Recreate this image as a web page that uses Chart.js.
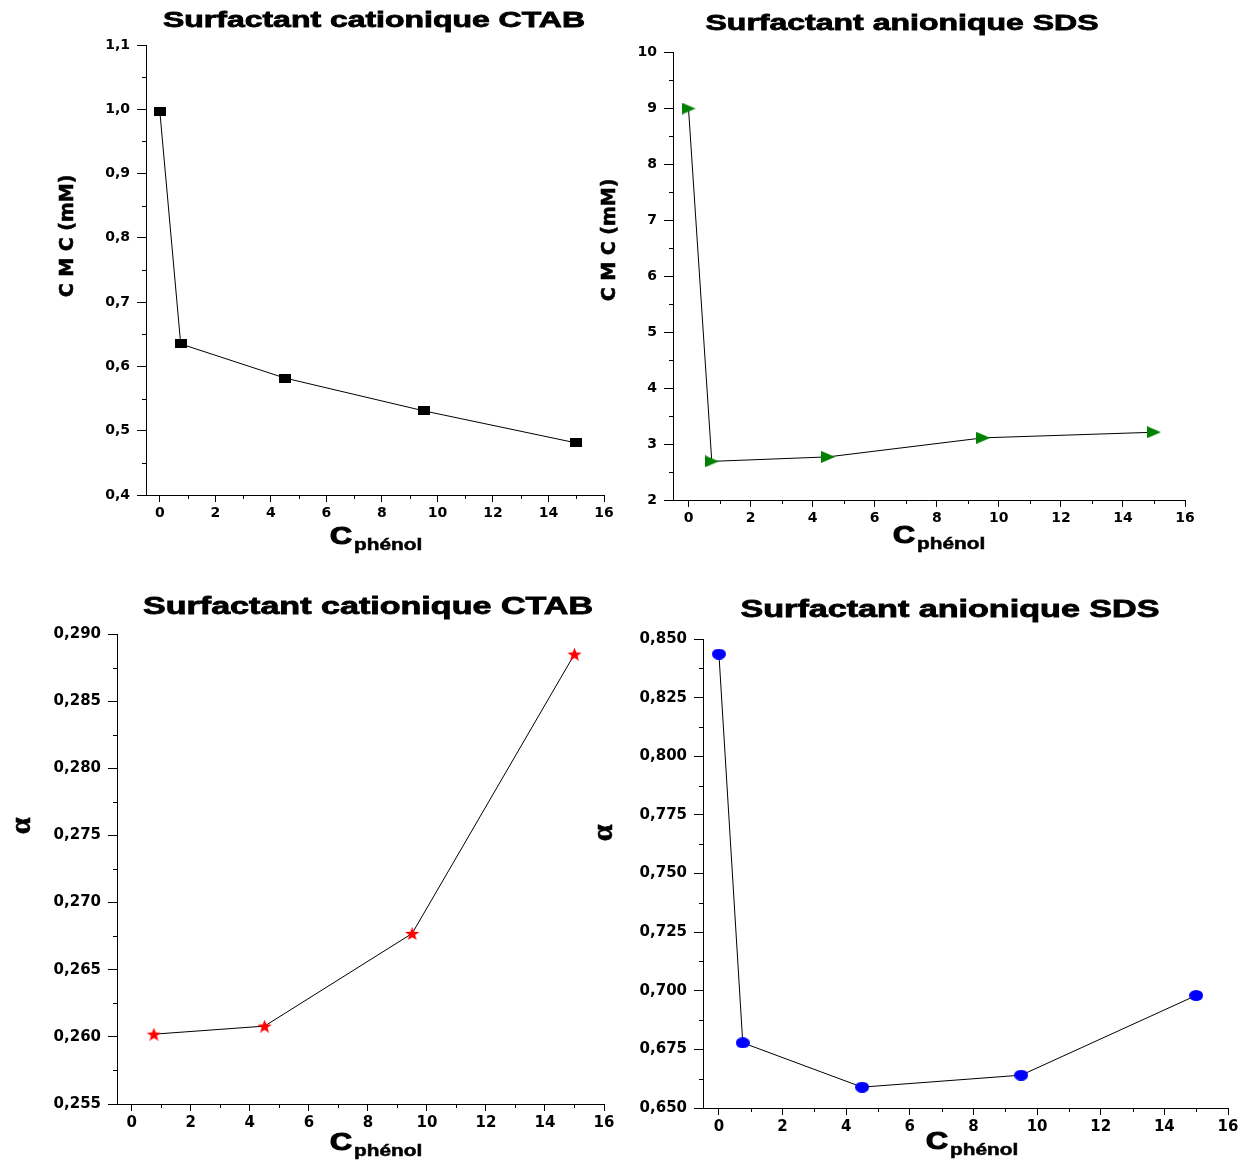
<html>
<head>
<title>CMC et alpha en fonction de C phenol</title>
<script src="https://cdn.jsdelivr.net/npm/chart.js@4.4.1/dist/chart.umd.min.js"></script>
<style>
  body { margin: 0; background: #fff; }
  #wrap { position: relative; width: 1250px; height: 1160px; }
  #wrap canvas { position: absolute; left: 0; top: 0; }
</style>
</head>
<body>
<div id="wrap">
  <canvas id="ctabCmcChart" width="1250" height="1160"></canvas>
  <canvas id="sdsCmcChart" width="1250" height="1160"></canvas>
  <canvas id="ctabAlphaChart" width="1250" height="1160"></canvas>
  <canvas id="sdsAlphaChart" width="1250" height="1160"></canvas>
</div>
<script>
// ---- data ----
const xTickValues = [0, 2, 4, 6, 8, 10, 12, 14, 16];
const xTickLabels = ['0', '2', '4', '6', '8', '10', '12', '14', '16'];

const ctabCmcPhenol = [0, 0.75, 4.5, 9.5, 15];
const ctabCmc = [0.996, 0.635, 0.582, 0.531, 0.481];
const ctabCmcTicks = [0.4, 0.5, 0.6, 0.7, 0.8, 0.9, 1.0, 1.1];
const ctabCmcTickLabels = ['0,4', '0,5', '0,6', '0,7', '0,8', '0,9', '1,0', '1,1'];

const sdsCmcPhenol = [0, 0.75, 4.5, 9.5, 15];
const sdsCmc = [8.99, 2.69, 2.77, 3.11, 3.21];
const sdsCmcTicks = [2, 3, 4, 5, 6, 7, 8, 9, 10];
const sdsCmcTickLabels = ['2', '3', '4', '5', '6', '7', '8', '9', '10'];

const ctabAlphaPhenol = [0.75, 4.5, 9.5, 15];
const ctabAlpha = [0.2602, 0.2608, 0.2677, 0.2885];
const ctabAlphaTicks = [0.255, 0.260, 0.265, 0.270, 0.275, 0.280, 0.285, 0.290];
const ctabAlphaTickLabels = ['0,255', '0,260', '0,265', '0,270', '0,275', '0,280', '0,285', '0,290'];

const sdsAlphaPhenol = [0, 0.75, 4.5, 9.5, 15];
const sdsAlpha = [0.8436, 0.6778, 0.6589, 0.664, 0.698];
const sdsAlphaTicks = [0.650, 0.675, 0.700, 0.725, 0.750, 0.775, 0.800, 0.825, 0.850];
const sdsAlphaTickLabels = ['0,650', '0,675', '0,700', '0,725', '0,750', '0,775', '0,800', '0,825', '0,850'];

// ---- markers ----
function makeMarker(kind, color, w, h) {
  const c = document.createElement('canvas');
  c.width = w; c.height = h;
  const g = c.getContext('2d');
  g.fillStyle = color;
  g.beginPath();
  if (kind === 'rect') {
    g.rect(0, 0, w, h);
  } else if (kind === 'tri') {
    g.moveTo(0, 0); g.lineTo(w, h / 2); g.lineTo(0, h);
  } else if (kind === 'star') {
    for (let i = 0; i < 10; i++) {
      const a = -Math.PI / 2 + i * Math.PI / 5;
      const r = i % 2 ? 0.42 : 1;
      const px = w / 2 + Math.cos(a) * r * w / 2;
      const py = h * 0.55 + Math.sin(a) * r * h * 0.55;
      i ? g.lineTo(px, py) : g.moveTo(px, py);
    }
  } else {
    g.ellipse(w / 2, h / 2, w / 2, h / 2, 0, 0, Math.PI * 2);
  }
  g.closePath();
  g.fill();
  return c;
}

function midpoints(arr) {
  const out = [];
  for (let i = 0; i < arr.length - 1; i++) out.push((arr[i] + arr[i + 1]) / 2);
  return out;
}

// heavy, horizontally stretched text (the figure's fonts are wide and black)
function drawStretched(ctx, text, x, y, font, sx, align, heavy) {
  ctx.save();
  ctx.font = font;
  ctx.textAlign = align;
  ctx.translate(x, y);
  ctx.scale(sx, 1);
  ctx.fillText(text, 0, 0);
  if (heavy) {
    ctx.lineWidth = heavy;
    ctx.strokeText(text, 0, 0);
  }
  ctx.restore();
}

// titles, axis titles, minor ticks
const decorPlugin = {
  id: 'decor',
  afterDraw(chart, args, o) {
    const ctx = chart.ctx;
    const xs = chart.scales.x, ys = chart.scales.y;
    ctx.save();
    ctx.strokeStyle = '#000';
    ctx.lineWidth = 1;
    ctx.beginPath();
    midpoints(xTickValues).forEach(v => {
      const px = Math.round(xs.getPixelForValue(v)) + 0.5;
      ctx.moveTo(px, ys.bottom); ctx.lineTo(px, ys.bottom + 4);
    });
    midpoints(o.yTicks).forEach(v => {
      const py = Math.round(ys.getPixelForValue(v)) + 0.5;
      ctx.moveTo(xs.left, py); ctx.lineTo(xs.left - 4, py);
    });
    ctx.stroke();

    ctx.fillStyle = '#000';
    // main title, stretched to the reference width
    ctx.font = o.titleFont;
    const tw = ctx.measureText(o.title).width;
    ctx.textBaseline = 'middle';
    drawStretched(ctx, o.title, o.titlePos[0], o.titlePos[1], o.titleFont, o.titleWidth / tw, 'center', 0.8);

    // x title: C with subscript
    ctx.textBaseline = 'alphabetic';
    ctx.font = 'bold 24px "Liberation Sans"';
    const cw = ctx.measureText('C').width * 1.27;
    drawStretched(ctx, 'C', o.xTitlePos[0], o.xTitlePos[1], 'bold 24px "Liberation Sans"', 1.27, 'left', 1.2);
    drawStretched(ctx, 'phénol', o.xTitlePos[0] + cw + 2, o.xTitlePos[1] + 6, 'bold 16px "Liberation Sans"', 1.3, 'left', 0.5);

    // y title, rotated
    ctx.save();
    ctx.translate(o.yTitlePos[0], o.yTitlePos[1]);
    ctx.rotate(-Math.PI / 2);
    ctx.textBaseline = 'middle';
    drawStretched(ctx, o.yTitle, 0, 0, o.yTitleFont, 1, 'center', 0.6);
    ctx.restore();
    ctx.restore();
  }
};

const panels = [
  { id: 'ctabCmcChart', xs: ctabCmcPhenol, ys: ctabCmc, yTicks: ctabCmcTicks, yLabels: ctabCmcTickLabels,
    marker: makeMarker('rect', '#000', 12, 9),
    area: { l: 146, t: 45, r: 604, b: 495 }, tickSizeY: 14, tickSizeX: 14,
    title: 'Surfactant cationique CTAB', titleFont: 'bold 22px "Liberation Sans"', titlePos: [374, 21], titleWidth: 422,
    yTitle: 'C M C (mM)', yTitleFont: 'bold 19px "DejaVu Sans"', yTitlePos: [68, 236], xTitlePos: [330, 544] },
  { id: 'sdsCmcChart', xs: sdsCmcPhenol, ys: sdsCmc, yTicks: sdsCmcTicks, yLabels: sdsCmcTickLabels,
    marker: makeMarker('tri', '#008000', 14, 12),
    area: { l: 673, t: 52, r: 1185, b: 500 }, tickSizeY: 14, tickSizeX: 14,
    title: 'Surfactant anionique SDS', titleFont: 'bold 22px "Liberation Sans"', titlePos: [902, 24], titleWidth: 393,
    yTitle: 'C M C (mM)', yTitleFont: 'bold 19px "DejaVu Sans"', yTitlePos: [610, 240], xTitlePos: [893, 543] },
  { id: 'ctabAlphaChart', xs: ctabAlphaPhenol, ys: ctabAlpha, yTicks: ctabAlphaTicks, yLabels: ctabAlphaTickLabels,
    marker: makeMarker('star', '#ff0000', 15, 13),
    area: { l: 117, t: 634, r: 604, b: 1104 }, tickSizeY: 15, tickSizeX: 15,
    title: 'Surfactant cationique CTAB', titleFont: 'bold 23px "Liberation Sans"', titlePos: [368, 608], titleWidth: 450,
    yTitle: 'α', yTitleFont: 'bold 30px "Liberation Serif"', yTitlePos: [22, 826], xTitlePos: [330, 1150] },
  { id: 'sdsAlphaChart', xs: sdsAlphaPhenol, ys: sdsAlpha, yTicks: sdsAlphaTicks, yLabels: sdsAlphaTickLabels,
    marker: makeMarker('ellipse', '#0000ff', 14, 11),
    area: { l: 703, t: 639, r: 1228, b: 1108 }, tickSizeY: 15, tickSizeX: 15,
    title: 'Surfactant anionique SDS', titleFont: 'bold 23px "Liberation Sans"', titlePos: [950, 611], titleWidth: 419,
    yTitle: 'α', yTitleFont: 'bold 30px "Liberation Serif"', yTitlePos: [604, 833], xTitlePos: [926, 1149] }
];

const Y_AXIS_W = 80, X_AXIS_H = 30;

panels.forEach(p => {
  new Chart(document.getElementById(p.id), {
    type: 'scatter',
    data: {
      datasets: [{
        data: p.xs.map((x, i) => ({ x: x, y: p.ys[i] })),
        showLine: true,
        borderColor: '#000',
        borderWidth: 1,
        pointStyle: p.marker,
        pointRadius: 7,
        pointHoverRadius: 7
      }]
    },
    options: {
      responsive: false,
      animation: false,
      events: [],
      layout: {
        padding: { left: p.area.l - Y_AXIS_W, top: p.area.t, right: 1250 - p.area.r, bottom: 1160 - p.area.b - X_AXIS_H }
      },
      plugins: {
        legend: { display: false },
        tooltip: { enabled: false },
        decor: { title: p.title, titleFont: p.titleFont, titlePos: p.titlePos, titleWidth: p.titleWidth,
                 yTitle: p.yTitle, yTitleFont: p.yTitleFont, yTitlePos: p.yTitlePos, xTitlePos: p.xTitlePos,
                 yTicks: p.yTicks }
      },
      scales: {
        x: {
          type: 'linear', min: -0.5, max: 16,
          afterBuildTicks: s => { s.ticks = xTickValues.map(v => ({ value: v })); },
          afterFit: s => { s.height = X_AXIS_H; },
          ticks: { callback: (v, i) => xTickLabels[i], color: '#000', padding: 3, maxRotation: 0,
                   font: { family: 'DejaVu Sans', weight: 'bold', size: p.tickSizeX } },
          grid: { drawOnChartArea: false, tickLength: 7, color: '#000', tickColor: '#000' },
          border: { color: '#000', width: 1 }
        },
        y: {
          type: 'linear', min: p.yTicks[0], max: p.yTicks[p.yTicks.length - 1],
          afterBuildTicks: s => { s.ticks = p.yTicks.map(v => ({ value: v })); },
          afterFit: s => { s.width = Y_AXIS_W; },
          ticks: { callback: (v, i) => p.yLabels[i], color: '#000', padding: 7,
                   font: { family: 'DejaVu Sans', weight: 'bold', size: p.tickSizeY } },
          grid: { drawOnChartArea: false, tickLength: 9, color: '#000', tickColor: '#000' },
          border: { color: '#000', width: 1 }
        }
      }
    },
    plugins: [decorPlugin]
  });
});
</script>
</body>
</html>
